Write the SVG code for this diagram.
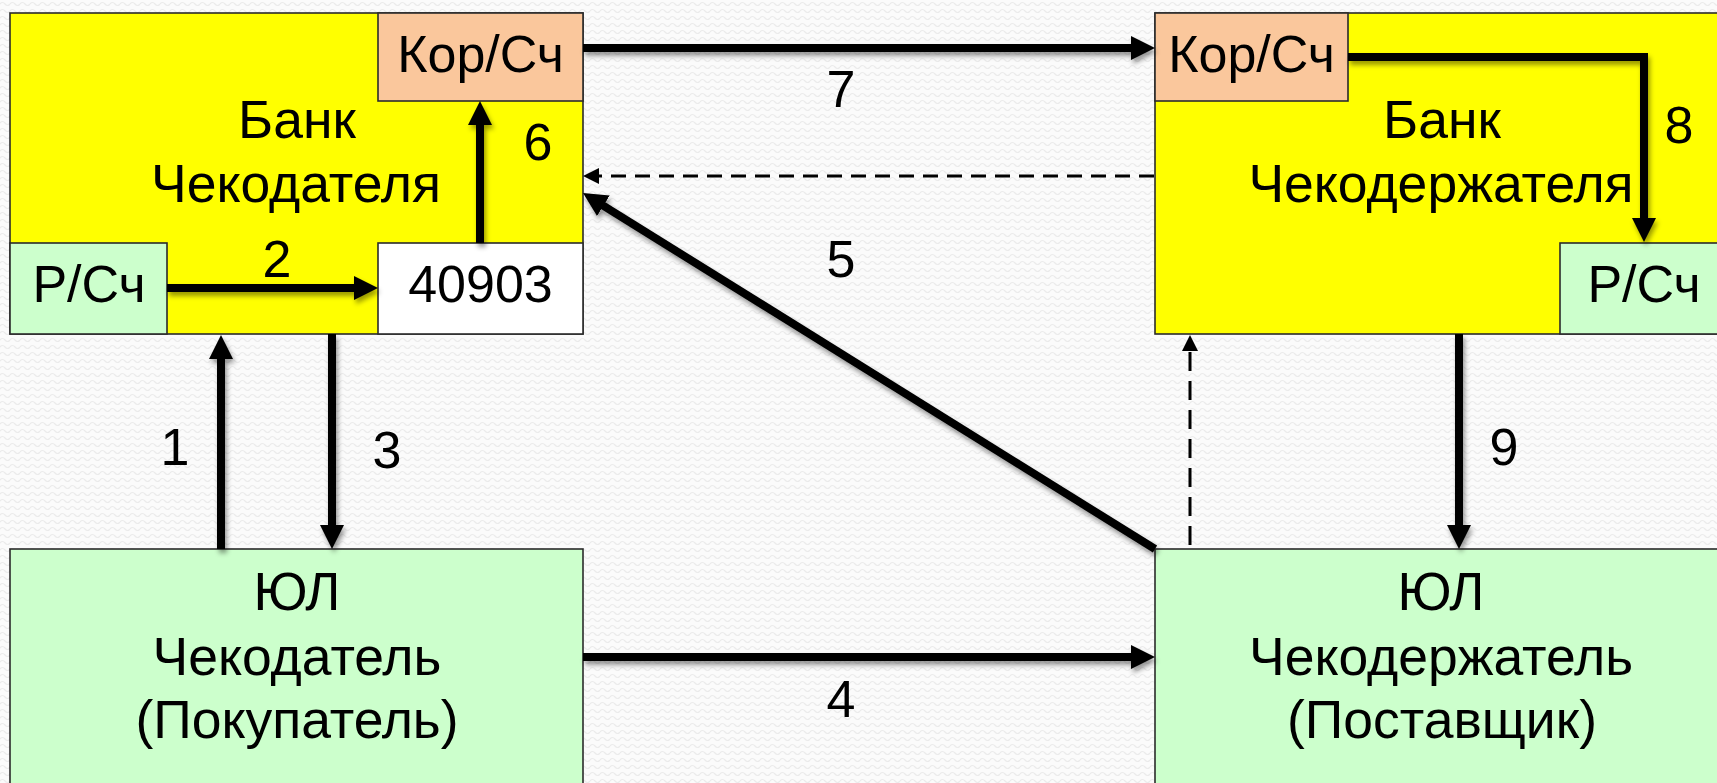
<svg xmlns="http://www.w3.org/2000/svg" width="1717" height="783" viewBox="0 0 1717 783">
  <style>
    .box { stroke: #2b2b2b; stroke-width: 1.6; }
    .bank { fill: #ffff00; }
    .kor { fill: #fac79c; }
    .green { fill: #ccffcc; }
    .white { fill: #ffffff; }
    text { font-family: "Liberation Sans", Arial, sans-serif; font-size: 52px; fill: #000; text-anchor: middle; }
    .big { font-size: 53.5px; }
    .arrow { fill: none; stroke: #000; stroke-width: 8; marker-end: url(#head); }
    .dash { fill: none; stroke: #000; stroke-width: 3; marker-end: url(#headSmall); }
    .shadow { filter: url(#sh); }
  </style>
  <defs>
    <pattern id="bg" width="10" height="7" patternUnits="userSpaceOnUse">
      <rect width="10" height="7" fill="#fbfbfb"/>
      <path d="M0 4 Q2.5 1 5 4 T10 4" fill="none" stroke="#ebebeb" stroke-width="1.2"/>
    </pattern>
    <marker id="head" markerUnits="userSpaceOnUse" viewBox="0 0 24 24" refX="4" refY="12" markerWidth="24" markerHeight="24" orient="auto">
      <polygon points="0,0 24,12 0,24" fill="#000"/>
    </marker>
    <marker id="headSmall" markerUnits="userSpaceOnUse" viewBox="0 0 16 16" refX="3" refY="8" markerWidth="16" markerHeight="16" orient="auto">
      <polygon points="0,0 16,8 0,16" fill="#000"/>
    </marker>
    <filter id="sh" filterUnits="userSpaceOnUse" x="0" y="0" width="1717" height="783">
      <feDropShadow dx="2" dy="4" stdDeviation="2.5" flood-color="#000" flood-opacity="0.4"/>
    </filter>
  </defs>

  <rect x="0" y="0" width="1717" height="783" fill="url(#bg)"/>

  <g id="bank-payer">
    <rect class="box bank" x="10" y="13" width="573" height="321"/>
    <text class="big" x="297" y="138">Банк</text>
    <text class="big" x="296" y="202">Чекодателя</text>
  </g>
  <g id="bank-payer-kor">
    <rect class="box kor" x="378" y="13" width="205" height="88"/>
    <text x="480.5" y="72">Кор/Сч</text>
  </g>
  <g id="bank-payer-rs">
    <rect class="box green" x="10" y="243" width="157" height="91"/>
    <text x="89" y="302">Р/Сч</text>
  </g>
  <g id="bank-payer-40903">
    <rect class="box white" x="378" y="243" width="205" height="91"/>
    <text x="480.5" y="302">40903</text>
  </g>

  <g id="bank-holder">
    <rect class="box bank" x="1155" y="13" width="600" height="321"/>
    <text class="big" x="1442" y="138">Банк</text>
    <text class="big" x="1441" y="202">Чекодержателя</text>
  </g>
  <g id="bank-holder-kor">
    <rect class="box kor" x="1155" y="13" width="193" height="88"/>
    <text x="1251.5" y="72">Кор/Сч</text>
  </g>
  <g id="bank-holder-rs">
    <rect class="box green" x="1560" y="243" width="200" height="91"/>
    <text x="1644" y="302">Р/Сч</text>
  </g>

  <g id="drawer">
    <rect class="box green" x="10" y="549" width="573" height="260"/>
    <text class="big" x="297" y="610">ЮЛ</text>
    <text class="big" x="297" y="675">Чекодатель</text>
    <text class="big" x="297" y="738">(Покупатель)</text>
  </g>
  <g id="holder">
    <rect class="box green" x="1155" y="549" width="600" height="260"/>
    <text class="big" x="1441" y="610">ЮЛ</text>
    <text class="big" x="1441" y="675">Чекодержатель</text>
    <text class="big" x="1442" y="738">(Поставщик)</text>
  </g>

  <g id="connectors">
    <path class="arrow shadow" d="M221 549 V355"/>
    <path class="arrow shadow" d="M167 288 H358"/>
    <path class="arrow shadow" d="M332 334 V529"/>
    <path class="arrow shadow" d="M583 657 H1135"/>
    <path class="arrow shadow" d="M1155 549 L600 203.6"/>
    <path class="arrow shadow" d="M480 243 V121"/>
    <path class="arrow shadow" d="M583 48 H1135"/>
    <path class="arrow shadow" d="M1348 57 H1644 V222" stroke-linejoin="miter"/>
    <path class="arrow shadow" d="M1459 334 V529"/>
    <path class="dash" d="M1154 176 H596" stroke-dasharray="15 9"/>
    <path class="dash" d="M1190 545 V348" stroke-dasharray="19 10"/>
  </g>

  <g id="connector-labels">
    <text x="175" y="465">1</text>
    <text x="277" y="277">2</text>
    <text x="387" y="468">3</text>
    <text x="841" y="717">4</text>
    <text x="841" y="277">5</text>
    <text x="538" y="160">6</text>
    <text x="841" y="107">7</text>
    <text x="1679" y="143">8</text>
    <text x="1504" y="465">9</text>
  </g>
</svg>
